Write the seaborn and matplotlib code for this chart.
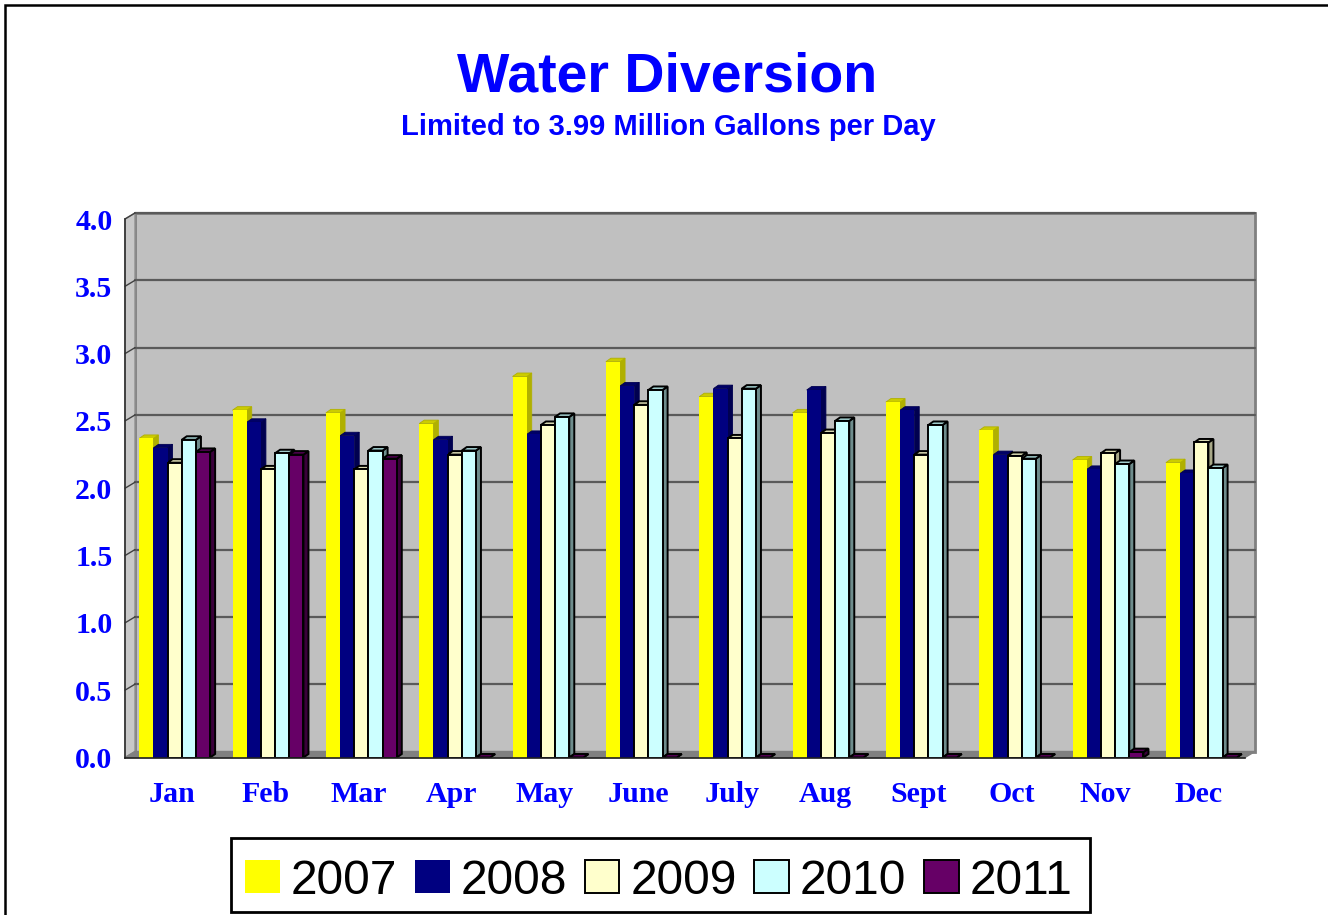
import matplotlib
matplotlib.use("Agg")
import matplotlib.pyplot as plt
from matplotlib.patches import Polygon, Rectangle, Patch
import numpy as np
import pandas as pd
import seaborn as sns

# Data (million gallons per day)
MONTHS = ["Jan", "Feb", "Mar", "Apr", "May", "June", "July", "Aug", "Sept", "Oct", "Nov", "Dec"]
YEARS = ["2007", "2008", "2009", "2010", "2011"]
V2007 = [2.37, 2.58, 2.56, 2.48, 2.83, 2.94, 2.68, 2.56, 2.64, 2.43, 2.21, 2.19]
V2008 = [2.30, 2.49, 2.39, 2.36, 2.40, 2.76, 2.74, 2.73, 2.58, 2.25, 2.14, 2.11]
V2009 = [2.19, 2.14, 2.14, 2.25, 2.47, 2.62, 2.37, 2.41, 2.25, 2.24, 2.26, 2.34]
V2010 = [2.36, 2.26, 2.28, 2.28, 2.53, 2.73, 2.74, 2.50, 2.47, 2.22, 2.18, 2.15]
V2011 = [2.27, 2.25, 2.22, 0.0, 0.0, 0.0, 0.0, 0.0, 0.0, 0.0, 0.04, 0.0]
Y_TICKS = [0.0, 0.5, 1.0, 1.5, 2.0, 2.5, 3.0, 3.5, 4.0]

TITLE = "Water Diversion"
SUBTITLE = "Limited to 3.99 Million Gallons per Day"

# Styling
COLORS = ["#FFFF00", "#000080", "#FFFFCC", "#CCFFFF", "#660066"]
SIDE_COLORS = ["#B0B000", "#000050", "#A8A888", "#6E8C8C", "#3A003A"]
TOP_COLORS = ["#CCCC00", "#000066", "#D8D8B0", "#A0CCCC", "#500050"]
OUTLINED = [False, False, True, True, True]
BLUE = "#0000FF"
W, H, DPI = 1328, 915, 100

df = pd.DataFrame({
    "month": MONTHS * len(YEARS),
    "year": np.repeat(YEARS, len(MONTHS)),
    "value": V2007 + V2008 + V2009 + V2010 + V2011,
})

sns.set_style("white")
fig = plt.figure(figsize=(W / DPI, H / DPI), dpi=DPI)

ax_left, ax_right, ax_top, ax_bottom = 125, 1245, 219, 757.5
ax = fig.add_axes([ax_left / W, 1 - ax_bottom / H, (ax_right - ax_left) / W, (ax_bottom - ax_top) / H])
ax.set_facecolor("none")

sns.barplot(
    data=df, x="month", y="value", hue="year",
    order=MONTHS, hue_order=YEARS, palette=COLORS,
    width=0.76, saturation=1, legend=False, ax=ax, zorder=3,
)
ax.set_xlim(-0.5, 11.5)
ax.set_ylim(0, 4)

# 3D box: back wall, side wall and floor offset by a few pixels
off_px = (10, 6)
ox = off_px[0] / (ax_right - ax_left)
oy = off_px[1] / (ax_bottom - ax_top)
wall_kw = dict(transform=ax.transAxes, clip_on=False)
ax.add_patch(Rectangle((ox, oy), 1, 1, facecolor="#C0C0C0", edgecolor="#808080", lw=2, zorder=0, **wall_kw))
ax.add_patch(Polygon([(0, 0), (ox, oy), (ox, 1 + oy), (0, 1)], closed=True,
                     facecolor="#C8C8C8", edgecolor="#909090", lw=1, zorder=0.2, **wall_kw))
ax.add_patch(Polygon([(0, 0), (1, 0), (1 + ox, oy), (ox, oy)], closed=True,
                     facecolor="#808080", edgecolor="#808080", lw=1, zorder=0.3, **wall_kw))

ytrans = ax.get_yaxis_transform()
dy_data = oy * 4
for yt in Y_TICKS[1:]:
    ax.plot([ox, 1 + ox], [yt + dy_data, yt + dy_data], transform=ytrans, color="#5A5A5A",
            lw=1.6, zorder=0.5, clip_on=False)
    ax.plot([0, ox], [yt, yt + dy_data], transform=ytrans, color="#404040",
            lw=1.0, zorder=0.5, clip_on=False)

# bar depth faces; bars sit a little into the box, so nudge them right
unit_px = (ax_right - ax_left) / 12
shift = 3 / unit_px
dx = 5 / unit_px
dy = 3.5 / ((ax_bottom - ax_top) / 4)
for i, cont in enumerate(ax.containers):
    for bar in cont:
        bar.set_x(bar.get_x() + shift)
        x0, w, h = bar.get_x(), bar.get_width(), bar.get_height()
        ec = "black" if OUTLINED[i] else SIDE_COLORS[i]
        lw = 1.4 if OUTLINED[i] else 0.6
        bar.set_edgecolor("black" if OUTLINED[i] else COLORS[i])
        bar.set_linewidth(1.4 if OUTLINED[i] else 0.0)
        side = Polygon([(x0 + w, 0), (x0 + w + dx, dy), (x0 + w + dx, h + dy), (x0 + w, h)],
                       closed=True, facecolor=SIDE_COLORS[i], edgecolor=ec, lw=lw, zorder=2.5)
        top = Polygon([(x0, h), (x0 + dx, h + dy), (x0 + w + dx, h + dy), (x0 + w, h)],
                      closed=True, facecolor=TOP_COLORS[i], edgecolor=ec, lw=lw, zorder=2.5)
        ax.add_patch(side)
        ax.add_patch(top)

# axes, ticks
for s in ["top", "right"]:
    ax.spines[s].set_visible(False)
ax.spines["left"].set_color("#303030")
ax.spines["bottom"].set_color("#202020")
ax.spines["left"].set_linewidth(1.2)
ax.spines["bottom"].set_linewidth(1.2)
ax.spines["left"].set_zorder(4)
ax.spines["bottom"].set_zorder(4)

ax.set_yticks(Y_TICKS)
ax.set_yticklabels([f"{v:.1f}" for v in Y_TICKS])
ax.set_xticks(range(len(MONTHS)))
ax.set_xticklabels(MONTHS)
ax.set_xticks(np.arange(-0.5, len(MONTHS)), minor=True)
ax.tick_params(axis="x", which="major", length=0, pad=17)
ax.tick_params(axis="x", which="minor", length=5, width=1, color="#404040", direction="out")
ax.tick_params(axis="y", which="major", length=5, width=1, color="#404040", direction="out", pad=4)
ax.set_xlabel("")
ax.set_ylabel("")
for lab in ax.get_xticklabels() + ax.get_yticklabels():
    lab.set_fontfamily("Liberation Serif")
    lab.set_fontweight("bold")
    lab.set_fontsize(21.5)
    lab.set_color(BLUE)

# titles
fig.text(667 / W, 1 - 92 / H, TITLE, ha="center", va="baseline", color=BLUE,
         fontsize=40, fontweight="bold", family="Liberation Sans")
fig.text(668 / W, 1 - 135 / H, SUBTITLE, ha="center", va="baseline", color=BLUE,
         fontsize=21, fontweight="bold", family="Liberation Sans")

# legend (frame drawn separately so the text can sit low in the box like the original)
handles = [Patch(facecolor=c, edgecolor="black" if o else c, lw=1.4 if o else 0)
           for c, o in zip(COLORS, OUTLINED)]
leg = fig.legend(handles, YEARS, loc="center", bbox_to_anchor=(659 / W, 1 - 881 / H), ncol=5,
                 frameon=False, prop=dict(family="Liberation Sans", size=34.5), labelcolor="black",
                 handlelength=0.72, handleheight=0.68, handletextpad=0.23,
                 columnspacing=0.37, borderpad=0.0, borderaxespad=0)
fig.patches.append(Rectangle((231 / W, 1 - 912 / H), 859 / W, 74 / H, transform=fig.transFigure,
                             fill=False, edgecolor="black", lw=2, figure=fig))

# chart border (runs off the right and bottom of the picture)
fig.patches.append(Rectangle((5 / W, -0.1), 1.2, 1 - 5 / H + 0.1, transform=fig.transFigure,
                             fill=False, edgecolor="black", lw=1.8, figure=fig))

fig.savefig("out.png", dpi=DPI)
